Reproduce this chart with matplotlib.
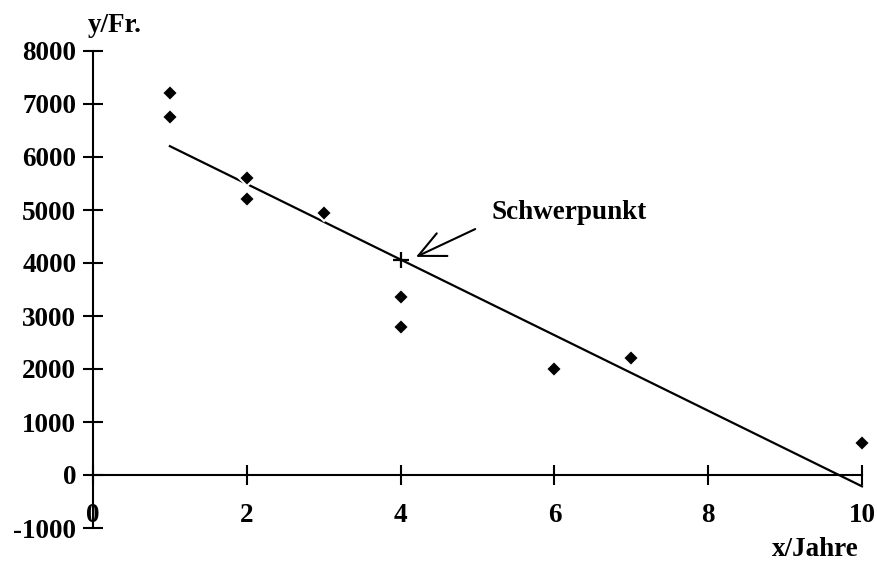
import numpy as np
import matplotlib
matplotlib.use("Agg")
import matplotlib.pyplot as plt

# data
x_years = [1, 1, 2, 2, 3, 4, 4, 6, 7, 10]
y_francs = [7200, 6750, 5600, 5200, 4950, 3350, 2800, 2000, 2200, 600]
x_ticks = [0, 2, 4, 6, 8, 10]
y_ticks = [-1000, 0, 1000, 2000, 3000, 4000, 5000, 6000, 7000, 8000]

x = np.array(x_years, dtype=float)
y = np.array(y_francs, dtype=float)
slope, icpt = np.polyfit(x, y, 1)
cx, cy = x.mean(), y.mean()

plt.rcParams["font.family"] = ["Liberation Serif", "DejaVu Serif"]
plt.rcParams["font.weight"] = "bold"
FS = 19.5

W, H = 877, 563
fig = plt.figure(figsize=(W / 100, H / 100), dpi=100)
ax = fig.add_axes([93 / W, (H - 528) / H, 769 / W, 477 / H])
ax.set_xlim(0, 10)
ax.set_ylim(-1000, 8000)

# regression line over the data range
xl = np.array([x.min(), x.max()])
ax.plot(xl, slope * xl + icpt, color="black", lw=1.6, zorder=2, clip_on=False)

# points with a white rim (gives the gaps in the line)
ax.plot(x, y, "D", color="black", ms=8.5, mec="white", mew=1.5,
        zorder=3, clip_on=False)

# centroid
ax.plot([cx], [cy], "+", color="black", ms=12, mew=1.6, zorder=4)
ax.annotate("", xy=(cx + 0.2, cy + 50), xytext=(4.97, 4640),
            arrowprops=dict(arrowstyle="->,head_length=0.95,head_width=0.45",
                            mutation_scale=20, color="black", lw=1.5,
                            shrinkA=0, shrinkB=0))
ax.text(5.18, 4960, "Schwerpunkt", fontsize=FS, fontweight="bold",
        va="center", ha="left")

# axes through the origin
for s in ["top", "right"]:
    ax.spines[s].set_visible(False)
ax.spines["bottom"].set_position(("data", 0))
ax.spines["left"].set_position(("data", 0))
ax.spines["bottom"].set_linewidth(1.5)
ax.spines["left"].set_linewidth(1.5)

ax.set_xticks(x_ticks)
ax.set_yticks(y_ticks)
ax.set_xticklabels([str(t) for t in x_ticks], fontsize=FS, fontweight="bold")
ax.set_yticklabels([str(t) for t in y_ticks], fontsize=FS, fontweight="bold")
ax.tick_params(axis="x", direction="inout", length=14, width=1.5, pad=13)
ax.tick_params(axis="y", direction="inout", length=14, width=1.5, pad=5)

fig.text(88 / W, 1 - 25 / H, "y/Fr.", fontsize=FS, fontweight="bold",
         ha="left", va="center")
fig.text(815 / W, 1 - 550 / H, "x/Jahre", fontsize=FS, fontweight="bold",
         ha="center", va="center")

fig.savefig("out.png", dpi=100)
